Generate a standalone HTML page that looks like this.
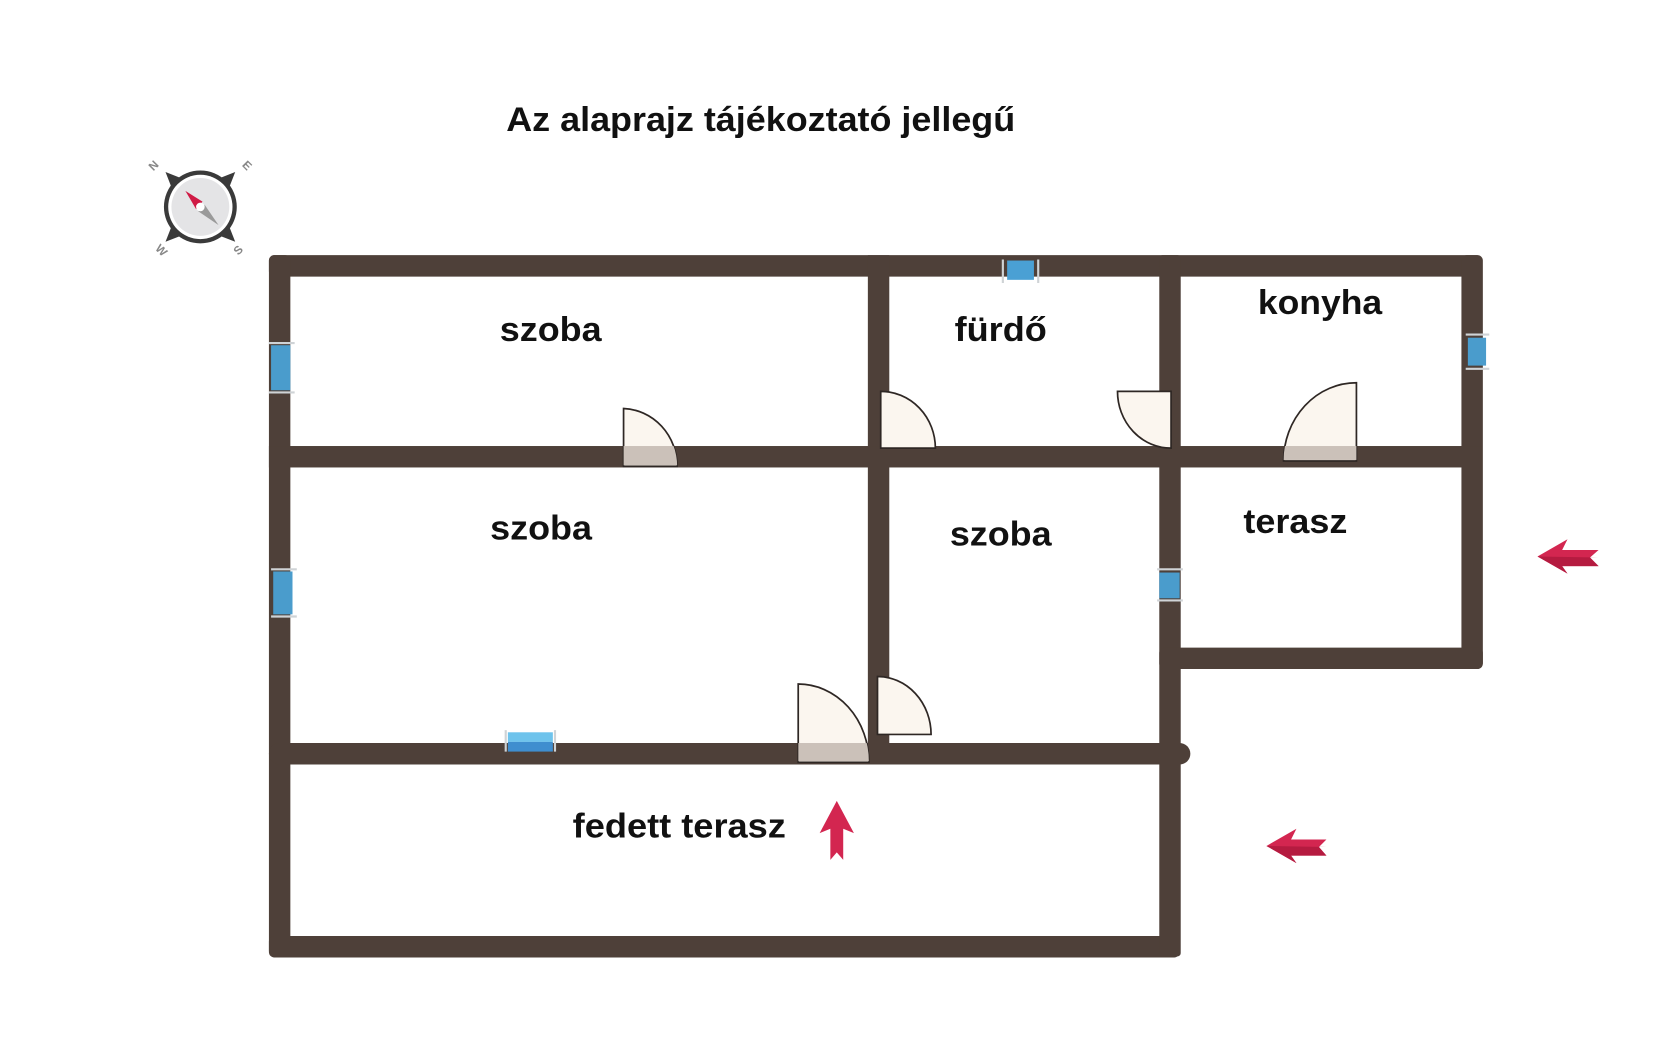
<!DOCTYPE html>
<html><head><meta charset="utf-8"><style>
html,body{margin:0;padding:0;background:#fff;width:1680px;height:1040px;overflow:hidden}
svg{display:block}
text{font-family:"Liberation Sans",Arial,sans-serif;font-weight:bold;fill:#111}
</style></head><body>
<svg width="1680" height="1040" viewBox="0 0 1568 970" preserveAspectRatio="none" xmlns="http://www.w3.org/2000/svg">
<defs>
<clipPath id="c1"><path d="M582,435 L582,381 A52,54 0 0 1 632,435 Z"/></clipPath>
<clipPath id="c4"><path d="M1266,430 L1266,357 A68,73 0 0 0 1198,430 Z"/></clipPath>
<clipPath id="c5"><path d="M745,711 L745,638 A66,73 0 0 1 811,711 Z"/></clipPath>
</defs>
<text x="710" y="122" font-size="32" text-anchor="middle" textLength="475" lengthAdjust="spacingAndGlyphs">Az alaprajz tájékoztató jellegű</text>

<!-- compass -->
<g transform="translate(187,193)">
<g transform="rotate(45)" fill="#3a3a3a">
<polygon points="0,-46 7,-30 -7,-30"/><polygon points="0,46 7,30 -7,30"/>
<polygon points="-46,0 -30,7 -30,-7"/><polygon points="46,0 30,7 30,-7"/>
</g>
<circle r="34" fill="#3a3a3a"/>
<circle r="30" fill="#fff"/>
<circle r="27" fill="#e4e4e6"/>
<polygon points="-14,-15 2,-5 -4,2" fill="#d01a45"/>
<polygon points="17,17 -2,4 4,-2" fill="#9a9a9a"/>
<circle r="4" fill="#fff"/>
</g>
<g font-size="11">
<text x="146" y="157" text-anchor="middle" transform="rotate(-45 146 157)" style="fill:#888">N</text>
<text x="228" y="157" text-anchor="middle" transform="rotate(45 228 157)" style="fill:#888">E</text>
<text x="148" y="236" text-anchor="middle" transform="rotate(45 148 236)" style="fill:#888">W</text>
<text x="225" y="236" text-anchor="middle" transform="rotate(-45 225 236)" style="fill:#888">S</text>
</g>

<!-- walls -->
<g fill="#4e4039">
<rect x="251" y="238" width="1132" height="20" rx="5"/>
<rect x="251" y="238" width="20" height="654" rx="5"/>
<rect x="251" y="873" width="850" height="20" rx="5"/>
<rect x="1364" y="238" width="20" height="385" rx="5"/>
<rect x="810" y="238" width="20" height="474"/>
<rect x="1082" y="238" width="20" height="654" rx="3"/>
<rect x="251" y="416" width="1132" height="20"/>
<rect x="1082" y="604" width="302" height="20" rx="5"/>
<rect x="251" y="693" width="860" height="20" rx="10"/>
</g>

<!-- doors -->
<g stroke="#2e2724" stroke-width="1.6" fill="#fbf6ef">
<path d="M582,435 L582,381 A52,54 0 0 1 632,435 Z"/>
<path d="M822,418 L822,365 A51,53 0 0 1 873,418 Z"/>
<path d="M1093,418 L1093,365 L1043,365 A50,53 0 0 0 1093,418 Z"/>
<path d="M1266,430 L1266,357 A68,73 0 0 0 1198,430 Z"/>
<path d="M745,711 L745,638 A66,73 0 0 1 811,711 Z"/>
<path d="M819,685 L819,631 A50,54 0 0 1 869,685 Z"/>
</g>
<g fill="#cbc1b9">
<rect x="570" y="416" width="70" height="18" clip-path="url(#c1)"/>
<rect x="1190" y="416" width="80" height="13" clip-path="url(#c4)"/>
<rect x="740" y="693" width="75" height="17" clip-path="url(#c5)"/>
</g>

<!-- windows -->
<g>
<rect x="253" y="322" width="18" height="42" fill="#4a9ccc"/>
<rect x="255" y="533" width="18" height="40" fill="#4a9ccc"/>
<rect x="940" y="243" width="25" height="18" fill="#4aa0d4"/>
<rect x="1370" y="315" width="17" height="26" fill="#4a9ccc"/>
<rect x="1082" y="534" width="19" height="24" fill="#4a9ccc"/>
<rect x="474" y="683" width="42" height="9" fill="#6ec3ec"/>
<rect x="474" y="692" width="42" height="9" fill="#3f8ecf"/>
</g>
<g stroke="#cfd3d6" stroke-width="2" fill="none">
<path d="M251,320 h24 M251,366 h24 M253,531 h24 M253,575 h24 M936,242 v22 M969,242 v22 M1368,312 h22 M1368,344 h22 M1080,531 h24 M1080,560 h24 M472,681 v20 M518,681 v20"/>
</g>

<!-- arrows -->
<g fill="#d32650">
<polygon points="1435,519 1463,503 1458,513 1492,513 1484,520 1492,528 1458,528 1463,535"/>
<polygon points="1182,789 1210,773 1205,783 1238,783 1231,790 1238,798 1205,798 1210,805"/>
<polygon points="781,747 797,777 787,773 787,802 781,795 775,802 775,773 765,777"/>
</g>
<g fill="#b51b40">
<polygon points="1435,519 1492,520 1484,520 1492,528 1458,528 1463,535"/>
<polygon points="1182,789 1238,790 1231,790 1238,798 1205,798 1210,805"/>
</g>

<!-- labels -->
<g font-size="32" text-anchor="middle">
<text x="514" y="318" textLength="95" lengthAdjust="spacingAndGlyphs">szoba</text>
<text x="934" y="318" textLength="86" lengthAdjust="spacingAndGlyphs">fürdő</text>
<text x="1232" y="293" textLength="116" lengthAdjust="spacingAndGlyphs">konyha</text>
<text x="505" y="503" textLength="95" lengthAdjust="spacingAndGlyphs">szoba</text>
<text x="934" y="509" textLength="95" lengthAdjust="spacingAndGlyphs">szoba</text>
<text x="1209" y="497" textLength="97" lengthAdjust="spacingAndGlyphs">terasz</text>
<text x="634" y="781" textLength="199" lengthAdjust="spacingAndGlyphs">fedett terasz</text>
</g>
</svg>
</body></html>
